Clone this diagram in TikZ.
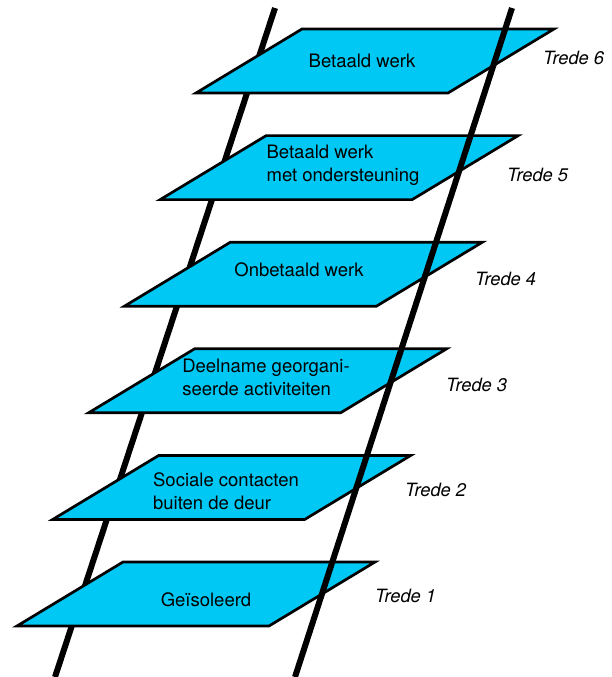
\documentclass[tikz,border=0pt]{standalone}
\usepackage{fontspec}
\setsansfont{TeX Gyre Heros}
\definecolor{trapblue}{RGB}{0,200,245}

\begin{document}
\begin{tikzpicture}[x=1pt, y=-1pt,
    rail/.style={line width=6pt, black},
    plank/.style={fill=trapblue, draw=black, line width=2.7pt, line join=miter},
    steptext/.style={font=\sffamily\fontsize{18.5}{23}\selectfont, align=left, inner sep=0pt},
    tredelabel/.style={font=\sffamily\itshape\fontsize{18.3}{20}\selectfont, anchor=west, inner sep=0pt}]

    % Size of the picture
    \def\picw{612}
    \def\pich{677}
    \def\pw{252}      % plank width
    \def\ph{64}       % plank height
    \def\ps{106}      % slant of a plank
    \def\dx{35.8}     % step to the right
    \def\dy{106.6}    % step upwards

    \useasboundingbox (0,0) rectangle (\picw,\pich);
    \clip (0,0) rectangle (\picw,\pich);

    % Rails
    \coordinate (lefttop) at (275,8);
    \coordinate (leftbot) at (55,\pich);
    \coordinate (righttop) at (512,8);
    \coordinate (rightbot) at (295,\pich);

    % Left rail, behind the planks
    \draw[rail] (lefttop) -- (leftbot);

    % Planks with their texts
    \foreach \i/\txt/\tx/\ty in {1/{Geïsoleerd}/206/600,
                                 2/{Sociale contacten\\buiten de deur}/226/491,
                                 3/{Deelname georgani-\\seerde activiteiten}/266/377,
                                 4/{Onbetaald werk}/299/270,
                                 5/{Betaald werk\\met ondersteuning}/343/165,
                                 6/{Betaald werk}/362/61}{
        \pgfmathsetmacro\px{123+(\i-1)*\dx}
        \pgfmathsetmacro\py{562-(\i-1)*\dy}
        \draw[plank] (\px,\py) -- ++(\pw,0) -- ++(-\ps,\ph) -- ++(-\pw,0) -- cycle;
        \node[steptext] (trede\i) at (\tx,\ty) {\txt};
    }

    % Right rail, in front of the planks
    \draw[rail] (righttop) -- (rightbot);

    % Labels
    \foreach \i/\lx/\ly in {1/375/596, 2/405/490, 3/446/385, 4/475/279, 5/507/175, 6/543/58}{
        \node[tredelabel] (label\i) at (\lx,\ly) {Trede \i};
    }

\end{tikzpicture}
\end{document}
